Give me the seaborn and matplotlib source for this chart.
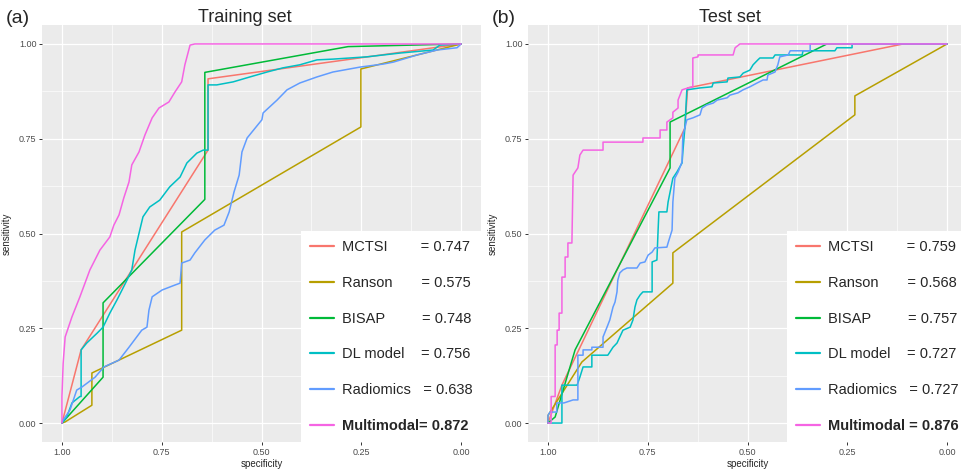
import numpy as np
import pandas as pd
import matplotlib
matplotlib.use("Agg")
import matplotlib.pyplot as plt
import seaborn as sns
from matplotlib.lines import Line2D
from matplotlib.ticker import FixedLocator

# ---------------- data ----------------
models = ["MCTSI", "Ranson", "BISAP", "DL model", "Radiomics", "Multimodal"]
colors = ["#F8766D", "#B79F00", "#00BA38", "#00BFC4", "#619CFF", "#F564E3"]
auc_train = [0.747, 0.575, 0.748, 0.756, 0.638, 0.872]
auc_test = [0.759, 0.568, 0.757, 0.727, 0.727, 0.876]
pad_train = [8, 7, 9, 4, 3, 0]
pad_test = [8, 7, 9, 4, 3, 1]

# values stored as (1 - specificity) and sensitivity
# ---- training set ----
a_mctsi_fpr = [0, 0.048, 0.366, 0.366, 1.0]
a_mctsi_sens = [0, 0.193, 0.72, 0.908, 1.0]
a_ranson_fpr = [0, 0.008, 0.075, 0.075, 0.30, 0.30, 0.749, 0.749, 1.0]
a_ranson_sens = [0, 0.003, 0.047, 0.132, 0.245, 0.504, 0.781, 0.934, 1.0]
a_bisap_fpr = [0, 0.103, 0.103, 0.358, 0.358, 0.717, 1.0]
a_bisap_sens = [0, 0.121, 0.317, 0.59, 0.925, 0.993, 1.0]
a_dl_fpr = [0, 0.012, 0.025, 0.045, 0.048, 0.048, 0.062, 0.088, 0.103, 0.120, 0.138,
            0.163, 0.175, 0.183, 0.195, 0.203, 0.22, 0.245, 0.27, 0.296, 0.313, 0.338,
            0.354, 0.366, 0.366, 0.388, 0.429, 0.471, 0.514, 0.554, 0.596, 0.639, 0.679,
            0.764, 0.847, 0.93, 0.947, 1.0]
a_dl_sens = [0, 0.016, 0.053, 0.07, 0.07, 0.193, 0.211, 0.237, 0.253, 0.29, 0.325,
             0.377, 0.404, 0.456, 0.509, 0.544, 0.57, 0.588, 0.623, 0.649, 0.686, 0.712,
             0.72, 0.72, 0.892, 0.892, 0.9, 0.913, 0.926, 0.937, 0.945, 0.958, 0.96,
             0.966, 0.976, 0.984, 0.997, 1.0]
a_rad_fpr = [0, 0.003, 0.02, 0.037, 0.05, 0.083, 0.105, 0.143, 0.168, 0.2, 0.213, 0.218,
             0.226, 0.251, 0.283, 0.296, 0.30, 0.321, 0.333, 0.358, 0.383, 0.406, 0.419,
             0.431, 0.444, 0.451, 0.464, 0.501, 0.504, 0.539, 0.564, 0.596, 0.639, 0.679,
             0.747, 0.805, 0.83, 0.89, 0.94, 0.99, 1.0]
a_rad_sens = [0, 0.008, 0.034, 0.087, 0.095, 0.121, 0.148, 0.166, 0.2, 0.245, 0.253, 0.298,
              0.333, 0.351, 0.364, 0.369, 0.422, 0.43, 0.449, 0.483, 0.509, 0.522, 0.557,
              0.609, 0.654, 0.715, 0.752, 0.8, 0.818, 0.852, 0.879, 0.897, 0.913, 0.926,
              0.939, 0.947, 0.952, 0.971, 0.984, 0.99, 1.0]
a_mm_fpr = [0, 0, 0.003, 0.008, 0.025, 0.045, 0.070, 0.095, 0.120, 0.13, 0.143, 0.155,
            0.168, 0.175, 0.193, 0.208, 0.226, 0.243, 0.268, 0.283, 0.30, 0.308, 0.321,
            0.333, 1.0]
a_mm_sens = [0, 0.07, 0.158, 0.227, 0.28, 0.333, 0.404, 0.456, 0.491, 0.522, 0.549, 0.594,
             0.636, 0.681, 0.715, 0.76, 0.805, 0.831, 0.847, 0.873, 0.9, 0.945, 0.997,
             1.0, 1.0]

# ---- test set ----
b_mctsi_fpr = [0, 0.035, 0.343, 0.35, 0.89, 1.0]
b_mctsi_sens = [0, 0.10, 0.778, 0.884, 1.0, 1.0]
b_ranson_fpr = [0, 0, 0.085, 0.313, 0.313, 0.769, 0.769, 1.0]
b_ranson_sens = [0, 0.02, 0.161, 0.369, 0.449, 0.813, 0.863, 1.0]
b_bisap_fpr = [0, 0.018, 0.068, 0.306, 0.306, 0.699, 1.0]
b_bisap_sens = [0, 0.016, 0.193, 0.673, 0.794, 1.0, 1.0]
b_dl_fpr = [0, 0.035, 0.035, 0.073, 0.08, 0.088, 0.110, 0.110, 0.150, 0.155, 0.163, 0.173,
            0.18, 0.188, 0.206, 0.213, 0.218, 0.223, 0.231, 0.238, 0.261, 0.261, 0.273,
            0.276, 0.278, 0.298, 0.301, 0.313, 0.323, 0.336, 0.338, 0.343, 0.348, 0.381,
            0.411, 0.414, 0.449, 0.451, 0.481, 0.489, 0.506, 0.514, 0.526, 0.531, 0.564,
            0.569, 0.637, 0.639, 0.719, 0.724, 0.762, 0.762, 1.0]
b_dl_sens = [0, 0, 0.1, 0.1, 0.121, 0.148, 0.148, 0.179, 0.179, 0.187, 0.2, 0.211,
             0.227, 0.245, 0.253, 0.272, 0.306, 0.325, 0.338, 0.346, 0.346, 0.425, 0.43,
             0.509, 0.557, 0.557, 0.583, 0.646, 0.662, 0.686, 0.715, 0.778, 0.879, 0.884,
             0.887, 0.897, 0.9, 0.91, 0.913, 0.923, 0.931, 0.945, 0.958, 0.963, 0.963,
             0.971, 0.971, 0.982, 0.982, 0.99, 0.99, 1.0, 1.0]
b_rad_fpr = [0, 0, 0.005, 0.022, 0.022, 0.04, 0.063, 0.075, 0.075, 0.088, 0.088, 0.110,
             0.110, 0.138, 0.138, 0.148, 0.155, 0.163, 0.168, 0.173, 0.175, 0.18, 0.188,
             0.198, 0.223, 0.231, 0.243, 0.251, 0.261, 0.268, 0.298, 0.301, 0.311, 0.313,
             0.318, 0.326, 0.336, 0.338, 0.343, 0.348, 0.363, 0.381, 0.386, 0.398, 0.414,
             0.424, 0.449, 0.456, 0.476, 0.489, 0.506, 0.524, 0.539, 0.549, 0.551, 0.569,
             0.576, 0.581, 0.602, 0.607, 0.657, 0.657, 1.0]
b_rad_sens = [0, 0.02, 0.029, 0.029, 0.053, 0.053, 0.061, 0.061, 0.179, 0.179, 0.193, 0.193,
              0.2, 0.2, 0.227, 0.253, 0.272, 0.306, 0.319, 0.346, 0.377, 0.396, 0.404,
              0.409, 0.409, 0.422, 0.425, 0.443, 0.451, 0.462, 0.464, 0.475, 0.509, 0.583,
              0.646, 0.662, 0.689, 0.76, 0.778, 0.8, 0.805, 0.813, 0.831, 0.839, 0.844,
              0.852, 0.858, 0.865, 0.871, 0.879, 0.887, 0.897, 0.905, 0.905, 0.918, 0.926,
              0.945, 0.966, 0.971, 0.982, 0.982, 1.0, 1.0]
b_mm_fpr = [0, 0.008, 0.008, 0.018, 0.018, 0.023, 0.023, 0.028, 0.028, 0.035, 0.035, 0.043,
            0.043, 0.05, 0.05, 0.06, 0.063, 0.068, 0.075, 0.08, 0.088, 0.138, 0.138, 0.238,
            0.238, 0.281, 0.281, 0.298, 0.298, 0.313, 0.313, 0.326, 0.326, 0.336, 0.351,
            0.363, 0.363, 0.376, 0.376, 0.464, 0.469, 0.481, 1.0]
b_mm_sens = [0, 0, 0.07, 0.07, 0.206, 0.206, 0.245, 0.245, 0.29, 0.29, 0.385, 0.385,
             0.438, 0.438, 0.475, 0.475, 0.654, 0.662, 0.673, 0.707, 0.72, 0.72, 0.741, 0.741,
             0.752, 0.752, 0.773, 0.773, 0.794, 0.805, 0.82, 0.831, 0.852, 0.879, 0.884,
             0.887, 0.963, 0.966, 0.971, 0.971, 0.99, 1.0, 1.0]

train_curves = [(a_mctsi_fpr, a_mctsi_sens), (a_ranson_fpr, a_ranson_sens),
                (a_bisap_fpr, a_bisap_sens), (a_dl_fpr, a_dl_sens),
                (a_rad_fpr, a_rad_sens), (a_mm_fpr, a_mm_sens)]
test_curves = [(b_mctsi_fpr, b_mctsi_sens), (b_ranson_fpr, b_ranson_sens),
               (b_bisap_fpr, b_bisap_sens), (b_dl_fpr, b_dl_sens),
               (b_rad_fpr, b_rad_sens), (b_mm_fpr, b_mm_sens)]


def make_df(curves):
    frames = []
    for name, (f, s) in zip(models, curves):
        frames.append(pd.DataFrame({"specificity": 1 - np.asarray(f, float),
                                    "sensitivity": np.asarray(s, float),
                                    "model": name}))
    return pd.concat(frames, ignore_index=True)


# ---------------- style ----------------
sns.set_theme(style="darkgrid")
plt.rcParams["font.family"] = ["Liberation Sans", "DejaVu Sans"]
plt.rcParams["axes.facecolor"] = "#EBEBEB"

W, H = 962, 470
fig = plt.figure(figsize=(W / 100, H / 100), dpi=100)
fig.patch.set_facecolor("white")


def px_axes(x0, y0, x1, y1):
    return fig.add_axes([x0 / W, 1 - y1 / H, (x1 - x0) / W, (y1 - y0) / H])


ax_a = px_axes(42, 25, 481, 442)
ax_b = px_axes(528, 25, 967, 442)

palette = dict(zip(models, colors))


def draw(ax, curves, aucs, pads):
    df = make_df(curves)
    sns.lineplot(data=df, x="specificity", y="sensitivity", hue="model",
                 hue_order=models, palette=palette, estimator=None, sort=False,
                 linewidth=1.1, legend=False, ax=ax)
    ax.set_xlim(1.05, -0.05)
    ax.set_ylim(-0.05, 1.05)
    major = [1.0, 0.75, 0.5, 0.25, 0.0]
    ax.xaxis.set_major_locator(FixedLocator(major))
    ax.yaxis.set_major_locator(FixedLocator(major))
    ax.xaxis.set_minor_locator(FixedLocator([0.875, 0.625, 0.375, 0.125]))
    ax.yaxis.set_minor_locator(FixedLocator([0.875, 0.625, 0.375, 0.125]))
    ax.set_xticklabels(["1.00", "0.75", "0.50", "0.25", "0.00"])
    ax.set_yticklabels(["1.00", "0.75", "0.50", "0.25", "0.00"])
    ax.grid(which="major", color="white", linewidth=0.9)
    ax.grid(which="minor", color="white", linewidth=0.45)
    ax.tick_params(which="major", length=2.5, width=0.7, color="#333333",
                   labelsize=6.5, labelcolor="#4D4D4D", pad=1.5,
                   bottom=True, left=True)
    ax.tick_params(which="minor", length=0)
    for sp in ax.spines.values():
        sp.set_visible(False)
    ax.set_xlabel("specificity", fontsize=7, labelpad=2)
    ax.set_ylabel("sensitivity", fontsize=7, labelpad=5)

    handles = [Line2D([0], [0], color=c, lw=1.6) for c in colors]
    labels = []
    for name, a, p in zip(models, aucs, pads):
        labels.append(f"{name}{' ' * p}= {a:.3f}")
    leg = ax.legend(handles, labels, loc="lower right", borderaxespad=0,
                    frameon=True, fancybox=False, framealpha=1,
                    facecolor="white", edgecolor="white", fontsize=10.5,
                    handlelength=1.7, handletextpad=0.5, labelspacing=1.5,
                    borderpad=0.6)
    leg.get_frame().set_linewidth(0)
    leg.get_texts()[-1].set_fontweight("bold")


draw(ax_a, train_curves, auc_train, pad_train)
draw(ax_b, test_curves, auc_test, pad_test)

# titles and panel tags
fig.text(245 / W, 1 - 21.5 / H, "Training set", fontsize=13, ha="center", va="baseline")
fig.text(730 / W, 1 - 21.5 / H, "Test set", fontsize=13, ha="center", va="baseline")
fig.text(6 / W, 1 - 23 / H, "(a)", fontsize=14, ha="left", va="baseline")
fig.text(492 / W, 1 - 23 / H, "(b)", fontsize=14, ha="left", va="baseline")

fig.savefig("out.png", dpi=100)
